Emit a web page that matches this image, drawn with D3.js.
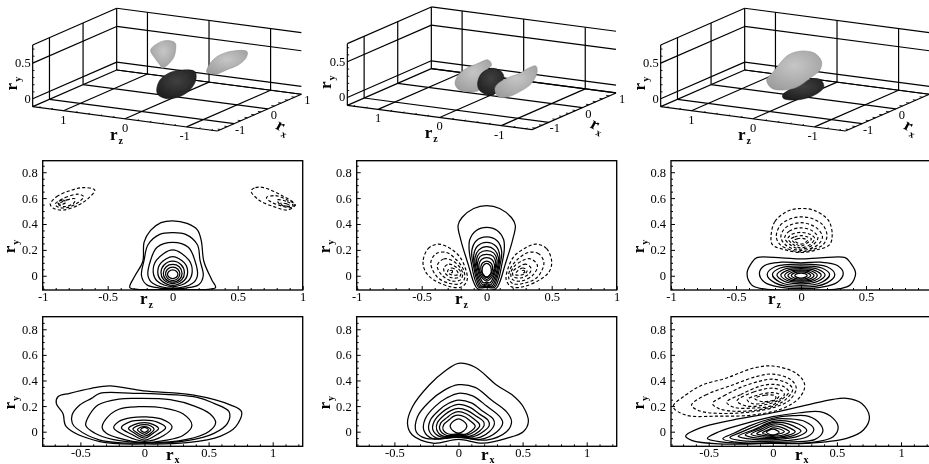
<!DOCTYPE html>
<html><head><meta charset="utf-8">
<script src="https://cdn.jsdelivr.net/npm/d3@7"></script>
<style>
html,body{margin:0;padding:0;background:#fff;overflow:hidden}
text{font-family:"Liberation Serif",serif;fill:#000}
</style></head><body>
<svg id="c" width="929" height="464"></svg>
<script>
// ---------- tick labels ----------
const ryTicks=[0,0.2,0.4,0.6,0.8];
const ryMinor=[-0.1,-0.05,0.05,0.1,0.15,0.25,0.3,0.35,0.45,0.5,0.55,0.65,0.7,0.75,0.85];
const rzTicks=[-1,-0.5,0,0.5,1];
const rzTicksClipped=[-1,-0.5,0,0.5];
const rxTicks=[-0.5,0,0.5,1];
const hMinor=[-0.9,-0.8,-0.7,-0.6,-0.4,-0.3,-0.2,-0.1,0.1,0.2,0.3,0.4,0.6,0.7,0.8,0.9,1.1,1.2];
// 3D box
const boxRz=[1.5,-1.5], boxRx=[-1.5,1], boxRy=[-0.11,0.755];
const gridRz=[1,0,-1], gridRx=[-1,0,1], gridRy=[0,0.5];
const labelRx=[-1,0,1], labelRxClipped=[-1,0];
const minorRz=[1.4,1.2,0.8,0.6,0.4,0.2,-0.2,-0.4,-0.6,-0.8,-1.2,-1.4];
const minorRx=[-1.4,-1.2,-0.8,-0.6,-0.4,-0.2,0.2,0.4,0.6,0.8];
const minorRy=[-0.1,0.1,0.2,0.3,0.4,0.6,0.7];

// ---------- isosurface silhouettes, [rz,ry] in the plane rx=0 ----------
const iso1Left=[.403,.501,.305,.596,.170,.658,.008,.648,-.003,.547,.035,.426,.159,.295,.214,.265,.251,.308,.332,.392];
const iso1Right=[-.505,.300,-.586,.450,-.722,.558,-.938,.639,-1.165,.655,-1.143,.560,-1.019,.452,-.830,.361,-.668,.286,-.532,.280];
const iso1Core=[.305,-.049,.251,.097,.089,.219,-.127,.281,-.316,.279,-.332,.164,-.235,.012,-.073,-.099,.143,-.152,.278,-.116];
const iso2Left=[.570,-.004,.516,.119,.381,.227,.219,.307,.030,.384,-.024,.320,.084,.215,.165,.042,.192,-.064,.381,-.100,.516,-.082];
const iso2Core=[.203,.038,.138,.185,-.024,.274,-.186,.245,-.224,.156,-.132,.052,-.051,-.097,.084,-.098,.176,-.053];
const iso2Right=[-.078,-.024,-.105,.049,-.268,.161,-.484,.256,-.619,.341,-.743,.388,-.765,.311,-.673,.137,-.484,-.001,-.268,-.105,-.132,-.111];
const iso3Core=[.338,-.123,.192,-.013,-.051,.132,-.268,.166,-.332,.070,-.214,-.046,.003,-.141,.219,-.179,.327,-.168];
const iso3Top=[.597,.058,.489,.187,.381,.316,.246,.448,.030,.529,-.186,.521,-.295,.417,-.268,.297,-.105,.161,.111,.011,.327,-.051,.516,-.049];

// ---------- contours, middle row (rz,ry) ----------
const midASolid=[
[-.33,-.09,-.29,0,-.23,.11,-.22,.26,-.17,.35,-.09,.41,0,.425,.11,.405,.19,.355,.22,.27,.24,.11,.3,-.03,.33,-.09,.27,-.105,0,-.105,-.27,-.105],
[-.24,0,-.22,.12,-.19,.24,-.1,.32,0,.333,.1,.32,.19,.24,.21,.12,.235,0,.2,-.07,.1,-.095,0,-.1,-.1,-.095,-.2,-.07],
[-.19,0,-.17,.12,-.12,.22,0,.258,.12,.22,.17,.12,.19,0,.15,-.06,0,-.095,-.15,-.06],
[-.15,.03,-.125,.12,0,.2,.125,.12,.15,.03,.12,-.04,0,-.085,-.12,-.04],
[-.115,.03,-.09,.1,0,.147,.09,.1,.115,.03,.09,-.035,0,-.075,-.09,-.035],
[-.09,.025,-.065,.085,0,.113,.065,.085,.09,.025,.07,-.03,0,-.06,-.07,-.03],
[-.072,.02,-.05,.07,0,.088,.05,.07,.072,.02,.055,-.025,0,-.05,-.055,-.025],
[-.055,.015,-.04,.05,0,.067,.04,.05,.055,.015,.04,-.02,0,-.037,-.04,-.02],
[-.04,.012,-.028,.035,0,.046,.028,.035,.04,.012,.028,-.012,0,-.022,-.028,-.012]];
const midADash=[
[-.942,.552,-.891,.612,-.775,.663,-.685,.681,-.60,.663,-.647,.6,-.724,.547,-.84,.508,-.917,.521],
[-.904,.552,-.827,.604,-.724,.63,-.685,.612,-.737,.56,-.814,.526,-.878,.529],
[-.878,.552,-.814,.586,-.75,.594,-.762,.56,-.84,.534],
[-.885,.565,-.85,.585,-.82,.57,-.86,.55],
[.603,.655,.637,.681,.70,.681,.83,.625,.932,.56,.932,.534,.88,.508,.778,.534,.662,.586],
[.721,.604,.791,.619,.881,.586,.945,.547,.906,.526,.829,.542,.752,.573],
[.804,.586,.881,.573,.927,.542,.881,.534,.824,.552],
[.83,.56,.88,.555,.90,.542,.855,.542]];
const midBSolid=[
[0,.542,.1,.52,.19,.45,.22,.39,.2,.28,.14,.08,.1,-.05,.07,-.1,0,-.115,-.07,-.1,-.1,-.05,-.14,.08,-.2,.28,-.22,.39,-.19,.45,-.1,.52],
[0,.374,.08,.35,.13,.28,.135,.2,.115,.08,.09,-.03,.06,-.09,0,-.09,-.06,-.09,-.09,-.03,-.115,.08,-.135,.2,-.13,.28,-.08,.35],
[0,.3,.08,.27,.115,.19,.1,.07,.08,-.02,.05,-.085,0,-.08,-.05,-.085,-.08,-.02,-.1,.07,-.115,.19,-.08,.27],
[0,.258,.07,.23,.1,.16,.09,.06,.07,-.02,.04,-.08,0,-.07,-.04,-.08,-.07,-.02,-.09,.06,-.1,.16,-.07,.23],
[0,.225,.06,.2,.09,.14,.08,.05,.06,-.02,.03,-.07,0,-.06,-.03,-.07,-.06,-.02,-.08,.05,-.09,.14,-.06,.2],
[0,.194,.055,.175,.08,.12,.07,.05,.05,-.015,.025,-.055,0,-.05,-.025,-.055,-.05,-.015,-.07,.05,-.08,.12,-.055,.175],
[0,.165,.05,.15,.07,.1,.06,.04,.04,-.01,0,-.04,-.04,-.01,-.06,.04,-.07,.1,-.05,.15],
[0,.14,.04,.125,.06,.085,.05,.03,.03,-.005,0,-.03,-.03,-.005,-.05,.03,-.06,.085,-.04,.125],
[0,.114,.03,.1,.045,.07,.04,.03,.02,0,0,-.015,-.02,0,-.04,.03,-.045,.07,-.03,.1],
[0,.095,.025,.08,.035,.05,.03,.015,0,-.008,-.03,.015,-.035,.05,-.025,.08]];
const midBDash=[
[-.49,.11,-.45,.21,-.37,.245,-.28,.21,-.21,.15,-.165,.06,-.15,-.03,-.19,-.085,-.28,-.085,-.41,-.03,-.47,.03],
[-.43,.1,-.39,.17,-.31,.18,-.23,.12,-.18,.05,-.17,-.02,-.2,-.06,-.28,-.06,-.38,-.01],
[-.38,.08,-.33,.13,-.27,.12,-.21,.07,-.185,.02,-.2,-.03,-.27,-.04,-.35,.01],
[-.33,.06,-.29,.09,-.24,.07,-.2,.03,-.21,-.01,-.27,-.015,-.32,.02],
[-.3,.04,-.27,.06,-.23,.04,-.22,.01,-.26,.005,-.295,.02],
[-.28,.04,-.265,.04,-.265,.025,-.28,.025],
[.5,.11,.46,.21,.38,.245,.29,.21,.21,.15,.165,.06,.15,-.03,.19,-.085,.28,-.085,.41,-.03,.48,.03],
[.44,.1,.4,.17,.32,.18,.23,.12,.18,.05,.17,-.02,.2,-.06,.28,-.06,.39,-.01],
[.39,.08,.34,.13,.28,.12,.21,.07,.185,.02,.2,-.03,.27,-.04,.36,.01],
[.34,.06,.3,.09,.25,.07,.2,.03,.21,-.01,.27,-.015,.33,.02],
[.31,.04,.28,.06,.24,.04,.22,.01,.26,.005,.3,.02],
[.275,.04,.29,.04,.29,.025,.275,.025]];
const midCSolid=[
[-.415,.02,-.38,.1,-.34,.14,-.15,.138,0,.13,.15,.138,.34,.14,.38,.1,.42,.02,.38,-.07,.3,-.1,0,-.112,-.3,-.1,-.38,-.07],
[-.32,.02,-.28,.08,-.15,.105,0,.1,.15,.105,.28,.08,.325,.02,.28,-.05,.15,-.09,0,-.1,-.15,-.09,-.28,-.05],
[-.26,.01,-.2,.07,0,.09,.2,.07,.26,.01,.2,-.055,0,-.088,-.2,-.055],
[-.22,.01,-.16,.06,0,.077,.16,.06,.22,.01,.16,-.05,0,-.075,-.16,-.05],
[-.185,.005,-.13,.05,0,.065,.13,.05,.185,.005,.13,-.042,0,-.062,-.13,-.042],
[-.155,.005,-.11,.04,0,.055,.11,.04,.155,.005,.11,-.035,0,-.052,-.11,-.035],
[-.125,.003,-.09,.033,0,.045,.09,.033,.125,.003,.09,-.03,0,-.042,-.09,-.03],
[-.1,.002,-.07,.027,0,.037,.07,.027,.1,.002,.07,-.024,0,-.034,-.07,-.024],
[-.075,.002,-.05,.022,0,.03,.05,.022,.075,.002,.05,-.018,0,-.026,-.05,-.018],
[-.048,.001,-.03,.016,0,.02,.03,.016,.048,.001,.03,-.013,0,-.018,-.03,-.013]];
const midCDash=[
[-.23,.31,-.2,.42,-.1,.5,0,.52,.1,.505,.21,.43,.24,.32,.22,.24,.12,.2,0,.18,-.12,.2,-.22,.24],
[-.19,.3,-.16,.39,-.08,.44,0,.455,.09,.44,.17,.39,.2,.31,.17,.24,.08,.2,0,.185,-.08,.2,-.16,.24],
[-.155,.3,-.12,.37,0,.41,.12,.37,.165,.3,.13,.24,0,.195,-.12,.24],
[-.125,.295,-.09,.345,0,.37,.09,.345,.13,.295,.1,.245,0,.205,-.09,.245],
[-.1,.29,-.07,.32,0,.335,.07,.32,.105,.29,.08,.25,0,.215,-.07,.25],
[-.075,.285,-.05,.3,0,.31,.05,.3,.08,.285,.05,.255,0,.23,-.05,.255],
[-.05,.275,-.03,.285,0,.29,.03,.285,.05,.275,.03,.255,0,.245,-.03,.255]];

// ---------- contours, bottom row (rx,ry) ----------
const lowASolid=[
[-.675,.273,-.584,.3,-.414,.339,-.27,.357,-.008,.318,.385,.286,.673,.208,.757,.156,.712,.039,.594,-.034,.332,-.086,.018,-.096,-.348,-.078,-.61,.039,-.636,.143,-.688,.221],
[-.565,.13,-.505,.208,-.414,.26,-.348,.3,-.086,.3,.411,.268,.542,.221,.66,.156,.647,.065,.542,-.013,.332,-.07,0,-.09,-.348,-.065,-.53,.026,-.563,.065],
[-.458,.05,-.43,.13,-.36,.21,-.2,.255,-.05,.26,.2,.25,.39,.2,.51,.14,.555,.07,.5,0,.33,-.06,0,-.085,-.25,-.06,-.39,-.01],
[-.33,.03,-.3,.1,-.2,.175,-.05,.195,.15,.185,.3,.14,.37,.05,.3,-.03,.15,-.07,0,-.085,-.2,-.05,-.3,-.01],
[-.24,.03,-.2,.08,-.1,.11,.02,.115,.13,.1,.215,.04,.15,-.03,0,-.075,-.15,-.03],
[-.18,.03,-.12,.075,0,.09,.1,.075,.165,.03,.1,-.02,0,-.065,-.1,-.02],
[-.125,.025,-.08,.055,0,.07,.07,.055,.11,.025,.07,-.01,0,-.05,-.08,-.01],
[-.09,.02,-.055,.045,0,.055,.05,.045,.075,.02,.05,-.01,0,-.035,-.055,-.01],
[-.055,.015,-.035,.033,0,.04,.03,.033,.05,.015,.03,-.005,0,-.02,-.035,-.005],
[-.03,.015,0,.033,.03,.015,0,-.005]];
const lowBSolid=[
[0,.534,.13,.503,.296,.365,.427,.281,.505,.195,.545,.078,.505,0,.374,-.052,.19,-.09,0,-.06,-.2,-.09,-.36,-.026,-.398,.065,-.359,.195,-.228,.365,-.11,.47],
[0,.367,.13,.346,.257,.247,.374,.156,.414,.078,.374,0,.217,-.065,0,-.045,-.254,-.052,-.33,0,-.32,.117,-.228,.234,-.11,.325],
[0,.3,.11,.28,.22,.2,.32,.12,.345,.07,.3,0,.17,-.06,0,-.04,-.2,-.055,-.27,.01,-.26,.1,-.18,.2,-.09,.265],
[0,.247,.1,.225,.19,.16,.27,.1,.28,.06,.24,0,.14,-.05,0,-.035,-.17,-.05,-.23,.01,-.22,.09,-.15,.17,-.08,.22],
[0,.213,.09,.19,.16,.14,.23,.09,.24,.05,.2,.005,.11,-.04,0,-.03,-.14,-.04,-.2,.015,-.19,.08,-.13,.15,-.07,.19],
[0,.182,.07,.165,.14,.12,.195,.08,.2,.05,.165,.005,.09,-.035,0,-.025,-.12,-.035,-.17,.015,-.165,.07,-.11,.13,-.06,.165],
[0,.156,.06,.14,.12,.1,.16,.065,.165,.045,.13,.005,.07,-.025,0,-.02,-.09,-.03,-.145,.015,-.14,.065,-.09,.11,-.05,.14],
[0,.13,.05,.115,.09,.085,.125,.055,.13,.04,.1,.005,.05,-.02,0,-.015,-.07,-.02,-.12,.015,-.115,.055,-.07,.095,-.04,.12],
[0,.1,.035,.085,.06,.06,.065,.04,.04,.005,0,-.012,-.04,.005,-.065,.04,-.06,.06,-.035,.085]];
const lowCSolid=[
[-.68,-.034,-.576,.026,-.314,.091,0,.148,.262,.208,.471,.253,.576,.26,.694,.221,.754,.117,.707,.013,.576,-.052,.262,-.091,0,-.091,-.419,-.096,-.628,-.07],
[-.51,-.052,-.42,0,-.21,.065,0,.117,.21,.148,.367,.156,.471,.104,.51,.034,.471,-.039,.288,-.086,0,-.09,-.34,-.086],
[-.39,-.055,-.3,-.01,-.17,.05,0,.105,.157,.125,.28,.12,.37,.06,.39,0,.33,-.06,.15,-.08,0,-.085,-.25,-.085],
[-.335,-.045,-.25,-.005,-.12,.05,0,.095,.12,.1,.25,.08,.32,.02,.27,-.04,.1,-.07,-.1,-.075,-.25,-.07],
[-.27,-.035,-.15,.015,0,.08,.1,.085,.2,.06,.265,.01,.2,-.035,.05,-.06,-.15,-.06],
[-.215,-.025,-.12,.02,0,.07,.08,.07,.16,.045,.22,.005,.16,-.03,.04,-.05,-.12,-.05],
[-.17,-.02,-.09,.02,0,.06,.07,.055,.13,.03,.175,0,.13,-.025,.03,-.045,-.09,-.04],
[-.125,-.015,-.07,.015,0,.045,.05,.04,.1,.02,.13,0,.1,-.02,.02,-.035,-.07,-.03],
[-.08,-.01,-.04,.012,0,.03,.04,.025,.09,0,.04,-.02,0,-.03,-.04,-.025],
[-.05,-.005,0,.02,.05,-.005,0,-.025]];
const lowCDash=[
[-.777,.195,-.68,.286,-.55,.365,-.366,.417,-.157,.495,0,.513,.183,.456,.249,.365,.21,.268,.079,.182,-.157,.13,-.419,.122,-.68,.13],
[-.634,.208,-.524,.286,-.314,.365,-.13,.43,0,.45,.144,.404,.183,.339,.131,.247,.026,.195,-.157,.156,-.419,.143,-.576,.164],
[-.47,.22,-.38,.28,-.24,.35,-.1,.395,0,.41,.12,.375,.155,.33,.11,.26,.02,.205,-.12,.17,-.3,.16,-.42,.18],
[-.36,.23,-.25,.29,-.1,.355,0,.37,.09,.35,.125,.31,.08,.26,-.02,.2,-.15,.185,-.3,.19],
[-.28,.24,-.15,.31,0,.34,.07,.32,.09,.29,.05,.25,-.04,.215,-.2,.2],
[-.2,.25,-.1,.29,0,.305,.05,.29,.03,.255,-.06,.225,-.16,.22],
[-.14,.26,-.06,.285,.02,.28,.02,.255,-.08,.235]];

// ---------- layout ----------
const svg=d3.select("#c");
const root=svg.append("g").attr("filter","url(#soft)");
const defs=svg.append("defs");
defs.append("filter").attr("id","soft").attr("filterUnits","userSpaceOnUse")
  .attr("x",0).attr("y",0).attr("width",929).attr("height",464)
  .append("feGaussianBlur").attr("stdDeviation",0.35);
function grad(id,a,b,cx,cy){
  const g=defs.append("radialGradient").attr("id",id).attr("cx",cx).attr("cy",cy).attr("r",0.7);
  g.append("stop").attr("offset","0%").attr("stop-color",a);
  g.append("stop").attr("offset","100%").attr("stop-color",b);
}
grad("light","#c6c6c6","#9c9c9c","50%","38%");
grad("dark","#404040","#1c1c1c","50%","38%");
const pairs=f=>d3.range(0,f.length,2).map(i=>[f[i],f[i+1]]);

function label(g,x,y,main,sub,rot,subDy){
  const t=g.append("text").attr("transform",`translate(${x},${y}) rotate(${rot||0})`);
  t.append("tspan").attr("font-weight","bold").attr("font-size",17).text(main);
  t.append("tspan").attr("font-weight","bold").attr("font-size",10).attr("dx",1).attr("dy",subDy||4).text(sub);
}

function contourPanel(o){
  const g=root.append("g");
  const x=d3.scaleLinear().domain(o.xd).range([o.l,o.r]);
  const y=d3.scaleLinear().domain(o.yd).range([o.b,o.t]);
  const id="clip"+o.id;
  defs.append("clipPath").attr("id",id).append("rect").attr("x",o.l).attr("y",o.t).attr("width",o.r-o.l).attr("height",o.b-o.t);
  const line=d3.line().x(d=>x(d[0])).y(d=>y(d[1])).curve(d3.curveCatmullRomClosed.alpha(0.5));
  const c=g.append("g").attr("clip-path",`url(#${id})`).attr("fill","none").attr("stroke","#000");
  c.selectAll(".s").data(o.solid).join("path").attr("stroke-width",1.25).attr("d",d=>line(pairs(d)));
  c.selectAll(".d").data(o.dash||[]).join("path").attr("stroke-width",1.15).attr("stroke-dasharray","3.2,2.2").attr("d",d=>line(pairs(d)));
  g.append("rect").attr("x",o.l).attr("y",o.t).attr("width",o.r-o.l).attr("height",o.b-o.t)
    .attr("fill","none").attr("stroke","#000").attr("stroke-width",1.35);
  const ax=(gen,tr,size,vals,fmt,pad)=>{
    const a=g.append("g").attr("transform",tr)
      .call(gen.tickValues(vals).tickSizeOuter(0).tickSize(size).tickPadding(pad).tickFormat(fmt));
    a.select(".domain").remove();
    a.selectAll("line").attr("stroke","#000").attr("stroke-width",1);
    a.selectAll("text").attr("font-size",12.5).attr("font-family",'"Liberation Serif",serif').attr("fill","#000");
    return a;
  };
  ax(d3.axisLeft(y),`translate(${o.l},0)`,-4,ryTicks,d=>String(d),5);
  ax(d3.axisLeft(y),`translate(${o.l},0)`,-2,ryMinor,()=>"",5);
  ax(d3.axisBottom(x),`translate(0,${o.b})`,-4,o.xt,d=>String(d),2);
  ax(d3.axisBottom(x),`translate(0,${o.b})`,-2,hMinor.filter(v=>v>o.xd[0]&&v<o.xd[1]),()=>"",2);
  label(g,o.xl[0],o.xl[1],"r",o.xname,0,o.subDy);
  label(g,o.yl,(o.t+o.b)/2+28,"r","y",-90);
}

const rowM={t:160.7,b:290,yd:[-0.11,0.889],xd:[-1,1]};
const rowL={t:316.7,b:446.3,yd:[-0.114,0.898],xd:[-0.794,1.234]};
const colL=[42.7,356.7,671], colW=260;
contourPanel({...rowM,id:1,l:colL[0],r:colL[0]+colW,solid:midASolid,dash:midADash,xt:rzTicks,xname:"z",xl:[140,304],yl:15});
contourPanel({...rowM,id:2,l:colL[1],r:colL[1]+colW,solid:midBSolid,dash:midBDash,xt:rzTicks,xname:"z",xl:[455,304],yl:330});
contourPanel({...rowM,id:3,l:colL[2],r:colL[2]+colW,solid:midCSolid,dash:midCDash,xt:rzTicksClipped,xname:"z",xl:[768,304],yl:644});
contourPanel({...rowL,id:4,l:colL[0],r:colL[0]+colW,solid:lowASolid,xt:rxTicks,xname:"x",xl:[166,459.5],subDy:3,yl:15});
contourPanel({...rowL,id:5,l:colL[1],r:colL[1]+colW,solid:lowBSolid,xt:rxTicks,xname:"x",xl:[481,459.5],subDy:3,yl:330});
contourPanel({...rowL,id:6,l:colL[2],r:colL[2]+colW,solid:lowCSolid,dash:lowCDash,xt:rxTicks,xname:"x",xl:[795,459.5],subDy:3,yl:644});

// ---------- 3D boxes ----------
const zX=d3.scaleLinear().domain(boxRz).range([0,184.7]);
const zY=d3.scaleLinear().domain(boxRz).range([0,24.3]);
const xX=d3.scaleLinear().domain(boxRx).range([0,84]);
const xY=d3.scaleLinear().domain(boxRx).range([0,-36.7]);
const yY=d3.scaleLinear().domain(boxRy).range([0,-61.7]);

function box3d(o){
  const g=root.append("g");
  const P=(rz,rx,ry)=>[o.x+zX(rz)+xX(rx), o.y+zY(rz)+xY(rx)+yY(ry)];
  const seg=(a,b,w)=>g.append("line").attr("x1",a[0]).attr("y1",a[1]).attr("x2",b[0]).attr("y2",b[1])
      .attr("stroke","#000").attr("stroke-width",w||1.2);
  const [z0,z1]=boxRz,[x0,x1]=boxRx,[y0,y1]=boxRy;
  [y0,...gridRy,y1].forEach(v=>{seg(P(z0,x0,v),P(z0,x1,v));seg(P(z0,x1,v),P(z1,x1,v));});
  [x0,...gridRx].forEach(v=>seg(P(z0,v,y0),P(z0,v,y1)));
  gridRz.forEach(v=>seg(P(v,x1,y0),P(v,x1,y1)));
  gridRz.forEach(v=>seg(P(v,x0,y0),P(v,x1,y0)));
  gridRx.forEach(v=>seg(P(z0,v,y0),P(z1,v,y0)));
  seg(P(z0,x0,y0),P(z1,x0,y0));
  seg(P(z1,x0,y0),P(z1,x1,y0));
  minorRz.forEach(v=>seg(P(v,x0,y0),P(v,x0+0.05,y0),0.9));
  minorRx.forEach(v=>seg(P(z1,v,y0),P(z1+0.05,v,y0),0.9));
  minorRy.forEach(v=>seg(P(z0,x0,v),P(z0-0.03,x0,v),0.9));
  const iso=d3.line().x(d=>P(d[0],0,d[1])[0]).y(d=>P(d[0],0,d[1])[1]).curve(d3.curveCatmullRomClosed.alpha(0.5));
  g.selectAll(".iso").data(o.iso).join("path").attr("d",d=>iso(pairs(d.pts)))
    .attr("fill",d=>`url(#${d.shade})`).attr("stroke",d=>d.shade==="dark"?"#111":"#8a8a8a").attr("stroke-width",0.5);
  const t=(p,dx,dy,s,anchor)=>g.append("text").attr("x",p[0]+dx).attr("y",p[1]+dy).attr("font-size",12.5)
     .attr("text-anchor",anchor||"middle").text(s);
  gridRy.forEach(v=>t(P(z0,x0,v),-2,4,String(v),"end"));
  gridRz.forEach(v=>t(P(v,x0,y0),v<0?-2:0,13,String(v)));
  o.rxLabels.forEach(v=>t(P(z1,v,y0),6,10,String(v)));
  const Pz=P(0,x0,y0);
  label(g,Pz[0]-15,Pz[1]+21,"r","z",0);
  const Py=P(z0,x0,0.23);
  label(g,Py[0]-16,Py[1]+8,"r","y",-90);
  const Px=P(z1,-0.3,y0);
  label(g,Px[0]+17,Px[1]+15,"r","x",28);
}
box3d({x:32.67,y:106.67,rxLabels:labelRx,iso:[{pts:iso1Left,shade:"light"},{pts:iso1Right,shade:"light"},{pts:iso1Core,shade:"dark"}]});
box3d({x:347.33,y:105.33,rxLabels:labelRx,iso:[{pts:iso2Left,shade:"light"},{pts:iso2Core,shade:"dark"},{pts:iso2Right,shade:"light"}]});
box3d({x:660.67,y:106.67,rxLabels:labelRxClipped,iso:[{pts:iso3Core,shade:"dark"},{pts:iso3Top,shade:"light"}]});
</script>
</body></html>
